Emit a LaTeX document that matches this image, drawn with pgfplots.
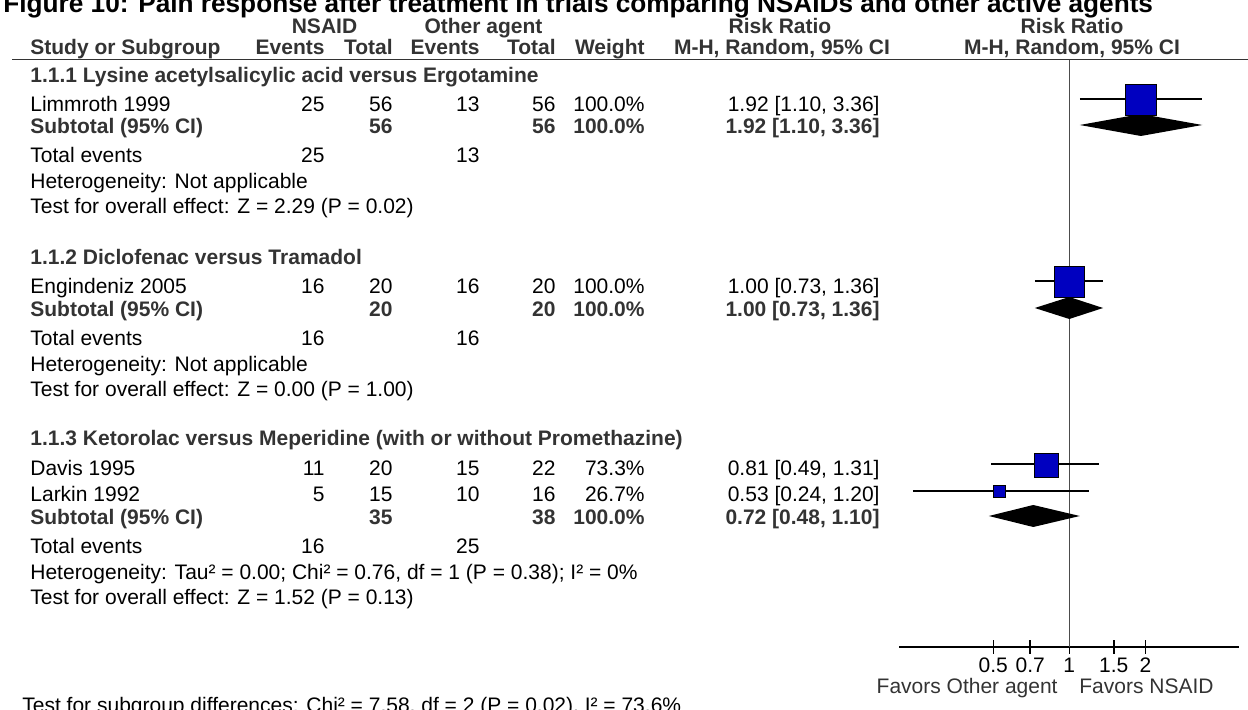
\documentclass[border=0pt]{standalone}
\usepackage{fontspec}
\setmainfont{Liberation Sans}
\usepackage{pgfplots}
\pgfplotsset{compat=1.18}
\definecolor{hdr}{HTML}{333333}
\definecolor{sq}{RGB}{0,0,192}
\newcommand{\fs}{\fontsize{10.5}{12}\selectfont}
\begin{document}
\begin{tikzpicture}[x=0.5pt,y=-0.5pt, every node/.style={inner sep=0pt, font=\fs}]
% ---- title (partly cut off at the top, as in the reference)
\node[anchor=base west, font=\fontsize{13.1}{15}\selectfont\bfseries] at (3,13) {Figure 10: Pain response after treatment in trials comparing NSAIDs and other active agents};
% ---- header
\begin{scope}[every node/.append style={font=\fs\bfseries, text=hdr}]
\node[anchor=base] at (324.5,34) {NSAID};
\node[anchor=base] at (483.5,34) {Other agent};
\node[anchor=base] at (780,34) {Risk Ratio};
\node[anchor=base] at (1072,34) {Risk Ratio};
\node[anchor=base west] at (30,55) {Study or Subgroup};
\node[anchor=base east] at (325,55) {Events};
\node[anchor=base east] at (393,55) {Total};
\node[anchor=base east] at (480,55) {Events};
\node[anchor=base east] at (556,55) {Total};
\node[anchor=base east] at (645,55) {Weight};
\node[anchor=base] at (782,55) {M-H, Random, 95\% CI};
\node[anchor=base] at (1072,55) {M-H, Random, 95\% CI};
\end{scope}
\draw[hdr, line width=0.75pt] (12,59.5) -- (1248,59.5);
% ---- macros for rows
\newcommand{\studyrow}[8]{%
  \node[anchor=base west] at (30,#1) {#2};
  \node[anchor=base east] at (325,#1) {#3};
  \node[anchor=base east] at (393,#1) {#4};
  \node[anchor=base east] at (480,#1) {#5};
  \node[anchor=base east] at (556,#1) {#6};
  \node[anchor=base east] at (645,#1) {#7};
  \node[anchor=base east] at (880,#1) {#8};}
\newcommand{\subrow}[6]{%
  \begin{scope}[every node/.append style={font=\fs\bfseries, text=hdr}]
  \node[anchor=base west] at (30,#1) {#2};
  \node[anchor=base east] at (393,#1) {#3};
  \node[anchor=base east] at (556,#1) {#4};
  \node[anchor=base east] at (645,#1) {#5};
  \node[anchor=base east] at (880,#1) {#6};
  \end{scope}}
\newcommand{\totrow}[3]{%
  \node[anchor=base west] at (30,#1) {Total events};
  \node[anchor=base east] at (325,#1) {#2};
  \node[anchor=base east] at (480,#1) {#3};}
\newcommand{\heading}[2]{\node[anchor=base west, font=\fs\bfseries, text=hdr] at (30,#1) {#2};}
\newcommand{\plain}[2]{\node[anchor=base west] at (30,#1) {#2};}
% ---- group 1
\heading{83}{1.1.1 Lysine acetylsalicylic acid versus Ergotamine}
\studyrow{112}{Limmroth 1999}{25}{56}{13}{56}{100.0\%}{1.92 [1.10, 3.36]}
\subrow{134}{Subtotal (95\% CI)}{56}{56}{100.0\%}{1.92 [1.10, 3.36]}
\totrow{163}{25}{13}
\plain{189}{Heterogeneity: Not applicable}
\plain{214}{Test for overall effect: Z = 2.29 (P = 0.02)}
% ---- group 2
\heading{265}{1.1.2 Diclofenac versus Tramadol}
\studyrow{294}{Engindeniz 2005}{16}{20}{16}{20}{100.0\%}{1.00 [0.73, 1.36]}
\subrow{317}{Subtotal (95\% CI)}{20}{20}{100.0\%}{1.00 [0.73, 1.36]}
\totrow{346}{16}{16}
\plain{372}{Heterogeneity: Not applicable}
\plain{397}{Test for overall effect: Z = 0.00 (P = 1.00)}
% ---- group 3
\heading{446}{1.1.3 Ketorolac versus Meperidine (with or without Promethazine)}
\studyrow{476}{Davis 1995}{11}{20}{15}{22}{73.3\%}{0.81 [0.49, 1.31]}
\studyrow{502}{Larkin 1992}{5}{15}{10}{16}{26.7\%}{0.53 [0.24, 1.20]}
\subrow{525}{Subtotal (95\% CI)}{35}{38}{100.0\%}{0.72 [0.48, 1.10]}
\totrow{554}{16}{25}
\plain{580}{Heterogeneity: Tau² = 0.00; Chi² = 0.76, df = 1 (P = 0.38); I² = 0\%}
\plain{605}{Test for overall effect: Z = 1.52 (P = 0.13)}
% ---- footer
\node[anchor=base west] at (22,712) {Test for subgroup differences: Chi² = 7.58, df = 2 (P = 0.02), I² = 73.6\%};
\node[anchor=base east, text=hdr] at (1058,694) {Favors Other agent};
\node[anchor=base west, text=hdr] at (1079,694) {Favors NSAID};
% ---- forest plot
\begin{axis}[at={(449.5pt,-323.5pt)}, anchor=south west, scale only axis,
  width=170pt, height=293.5pt, xmode=log, xmin=0.2117, xmax=4.697,
  ymin=-647, ymax=-60, axis x line*=bottom, axis y line=none,
  xtick={0.5,0.7,1,1.5,2}, xticklabels={0.5,0.7,1,1.5,2}, xminorticks=false,
  tick align=center, major tick length=7pt,
  major tick style={black, line width=0.7pt},
  x axis line style={black, line width=0.7pt},
  xticklabel style={anchor=base, yshift=-9.5pt, font=\fs, text=black},
  clip=false]
% line of no effect
\addplot[black!70, line width=0.8pt] coordinates {(1,-60) (1,-647)};
% confidence intervals
\addplot[black, line width=0.7pt] coordinates {(1.10,-99) (3.36,-99)};
\addplot[black, line width=0.7pt] coordinates {(0.73,-281) (1.36,-281)};
\addplot[black, line width=0.7pt] coordinates {(0.49,-464) (1.31,-464)};
\addplot[black, line width=0.7pt] coordinates {(0.24,-491) (1.20,-491)};
% study squares (size by weight)
\addplot[only marks, mark=square*, mark size=7.75pt, mark options={fill=sq, draw=none}] coordinates {(1.92,-100)};
\addplot[only marks, mark=square*, mark size=7.6pt, mark options={fill=sq, draw=none}] coordinates {(1.00,-282)};
\addplot[only marks, mark=square*, mark size=6pt, mark options={fill=sq, draw=none}] coordinates {(0.81,-465)};
\addplot[only marks, mark=square*, mark size=2.9pt, mark options={fill=sq, draw=none}] coordinates {(0.53,-491.5)};
% subtotal diamonds
\addplot[fill=black, draw=none] coordinates {(1.10,-125) (1.92,-114) (3.36,-125) (1.92,-136)} -- cycle;
\addplot[fill=black, draw=none] coordinates {(0.73,-308) (1.00,-297) (1.36,-308) (1.00,-319)} -- cycle;
\addplot[fill=black, draw=none] coordinates {(0.48,-516) (0.72,-505) (1.10,-516) (0.72,-527)} -- cycle;
\end{axis}
\pgfresetboundingbox
\path[use as bounding box] (0,0) rectangle (1248,710);
\end{tikzpicture}
\end{document}
